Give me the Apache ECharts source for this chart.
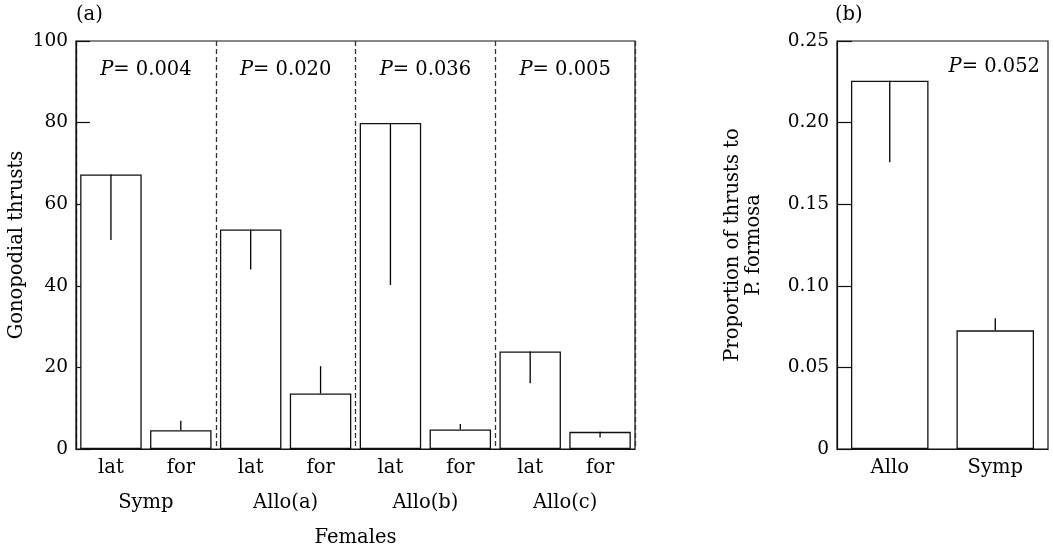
<!DOCTYPE html>
<html>
<head>
<meta charset="utf-8">
<script src="https://cdn.jsdelivr.net/npm/echarts@6/dist/echarts.min.js"></script>
<style>
html,body{margin:0;padding:0;background:#fff;}
#chart{width:1053px;height:552px;}
</style>
</head>
<body>
<div id="chart"></div>
<script>
// ---- Data (panel a) ----
const sexCategories = ['lat','for','lat','for','lat','for','lat','for'];
const groupCategories = ['Symp','Allo(a)','Allo(b)','Allo(c)'];
const thrustMeans = [67.3, 4.6, 53.8, 13.6, 79.9, 4.8, 23.9, 4.2];
const thrustErrEnds = [51.2, 6.9, 44.0, 20.3, 40.2, 6.1, 16.1, 2.8];
const groupPValues = ['0.004','0.020','0.036','0.005'];
const thrustTicks = [0, 20, 40, 60, 80, 100];

// ---- Data (panel b) ----
const popCategories = ['Allo','Symp'];
const proportionMeans = [0.2257, 0.0727];
const proportionErrEnds = [0.1757, 0.0801];
const proportionP = '0.052';
const proportionTicks = [0, 0.05, 0.10, 0.15, 0.20, 0.25];

const FONT = 'DejaVu Serif';
const FS = 19.5;   // text labels
const TFS = 18.5;  // tick labels
const INK = '#111';

const chart = echarts.init(document.getElementById('chart'), null, {renderer:'canvas'});

function errorRender(params, api){
  const x = api.value(0);
  const p1 = api.coord([x, api.value(1)]);
  const p2 = api.coord([x, api.value(2)]);
  return {type:'line', shape:{x1:p1[0], y1:p1[1], x2:p2[0], y2:p2[1]},
          style:{stroke:'#000', lineWidth:1.3}};
}

function pText(v){ return '{i|P}= ' + v; }
const pRich = {i:{fontStyle:'italic', fontFamily:FONT, fontSize:FS, fill:'#000'}};

function pLabelRender(params, api){
  const pt = api.coord([api.value(0), api.value(1)]);
  return {type:'text', x:pt[0], y:pt[1],
    style:{text:pText(groupPValues[params.dataIndex]),
      fill:'#000', fontFamily:FONT, fontSize:FS, align:'center', verticalAlign:'middle', rich:pRich}};
}

const yAxisCommon = {
  type:'value',
  axisLine:{show:true, lineStyle:{color:INK, width:1.2}},
  axisTick:{show:true, inside:true, length:14, lineStyle:{color:INK, width:1.2}},
  axisLabel:{color:'#000', fontFamily:FONT, fontSize:TFS, margin:8},
  splitLine:{show:false},
  nameLocation:'middle',
  nameRotate:90,
  nameMoveOverlap:false,
  nameTextStyle:{color:'#000', fontFamily:FONT, fontSize:FS}
};

const option = {
  animation:false,
  backgroundColor:'#fff',
  grid:[
    {left:76, top:41, width:559, height:408, containLabel:false, outerBoundsMode:'none',
     show:true, borderColor:INK, borderWidth:1.2, backgroundColor:'transparent'},
    {left:837, top:41, width:211, height:408, containLabel:false, outerBoundsMode:'none',
     show:true, borderColor:INK, borderWidth:1.2, backgroundColor:'transparent'}
  ],
  xAxis:[
    {type:'category', gridIndex:0, data:sexCategories,
     axisLine:{show:true, lineStyle:{color:INK, width:1.2}}, axisTick:{show:false},
     axisLabel:{color:'#000', fontFamily:FONT, fontSize:FS, margin:9},
     name:'Females', nameLocation:'middle', nameGap:79, nameMoveOverlap:false,
     nameTextStyle:{color:'#000', fontFamily:FONT, fontSize:FS}},
    {type:'category', gridIndex:0, data:groupCategories, position:'bottom', offset:35,
     axisLine:{show:false}, axisTick:{show:false},
     axisLabel:{color:'#000', fontFamily:FONT, fontSize:FS, margin:9},
     splitLine:{show:true, lineStyle:{color:'#333', width:1.3, type:[5,3]}}},
    {type:'category', gridIndex:1, data:popCategories,
     axisLine:{show:true, lineStyle:{color:INK, width:1.2}}, axisTick:{show:false},
     axisLabel:{color:'#000', fontFamily:FONT, fontSize:FS, margin:9}}
  ],
  yAxis:[
    Object.assign({}, yAxisCommon, {gridIndex:0, min:thrustTicks[0], max:thrustTicks[thrustTicks.length-1], interval:20,
      name:'Gonopodial thrusts', nameGap:49}),
    Object.assign({}, yAxisCommon, {gridIndex:1, min:proportionTicks[0], max:proportionTicks[proportionTicks.length-1], interval:0.05,
      axisTick:{show:true, inside:true, length:15, lineStyle:{color:INK, width:1.2}},
      axisLabel:{color:'#000', fontFamily:FONT, fontSize:TFS, margin:8,
        formatter:function(v){ return v === 0 ? '0' : v.toFixed(2); }},
      name:'Proportion of thrusts to\nP. formosa', nameGap:73,
      nameTextStyle:{color:'#000', fontFamily:FONT, fontSize:FS, lineHeight:21}})
  ],
  series:[
    {type:'bar', xAxisIndex:0, yAxisIndex:0, data:thrustMeans, barWidth:'88%',
     itemStyle:{color:'#fff', borderColor:INK, borderWidth:1.3}, z:2},
    {type:'custom', xAxisIndex:0, yAxisIndex:0, renderItem:errorRender,
     encode:{x:0, y:[1,2]}, data:thrustMeans.map((m,i)=>[i, m, thrustErrEnds[i]]), z:3},
    {type:'custom', xAxisIndex:1, yAxisIndex:0, renderItem:pLabelRender,
     encode:{x:0, y:1}, data:groupPValues.map((p,i)=>[i, 93]), z:4},
    {type:'bar', xAxisIndex:2, yAxisIndex:1, data:proportionMeans, barWidth:'73.5%',
     itemStyle:{color:'#fff', borderColor:INK, borderWidth:1.3}, z:2},
    {type:'custom', xAxisIndex:2, yAxisIndex:1, renderItem:errorRender,
     encode:{x:0, y:[1,2]}, data:proportionMeans.map((m,i)=>[i, m, proportionErrEnds[i]]), z:3}
  ],
  graphic:[
    {type:'text', left:76, top:5, style:{text:'(a)', fill:'#000', fontFamily:FONT, fontSize:FS}},
    {type:'text', left:835, top:5, style:{text:'(b)', fill:'#000', fontFamily:FONT, fontSize:FS}},
    {type:'text', right:13, top:57, style:{text:pText(proportionP), fill:'#000', fontFamily:FONT, fontSize:FS, rich:pRich}}
  ]
};
chart.setOption(option);
</script>
</body>
</html>
